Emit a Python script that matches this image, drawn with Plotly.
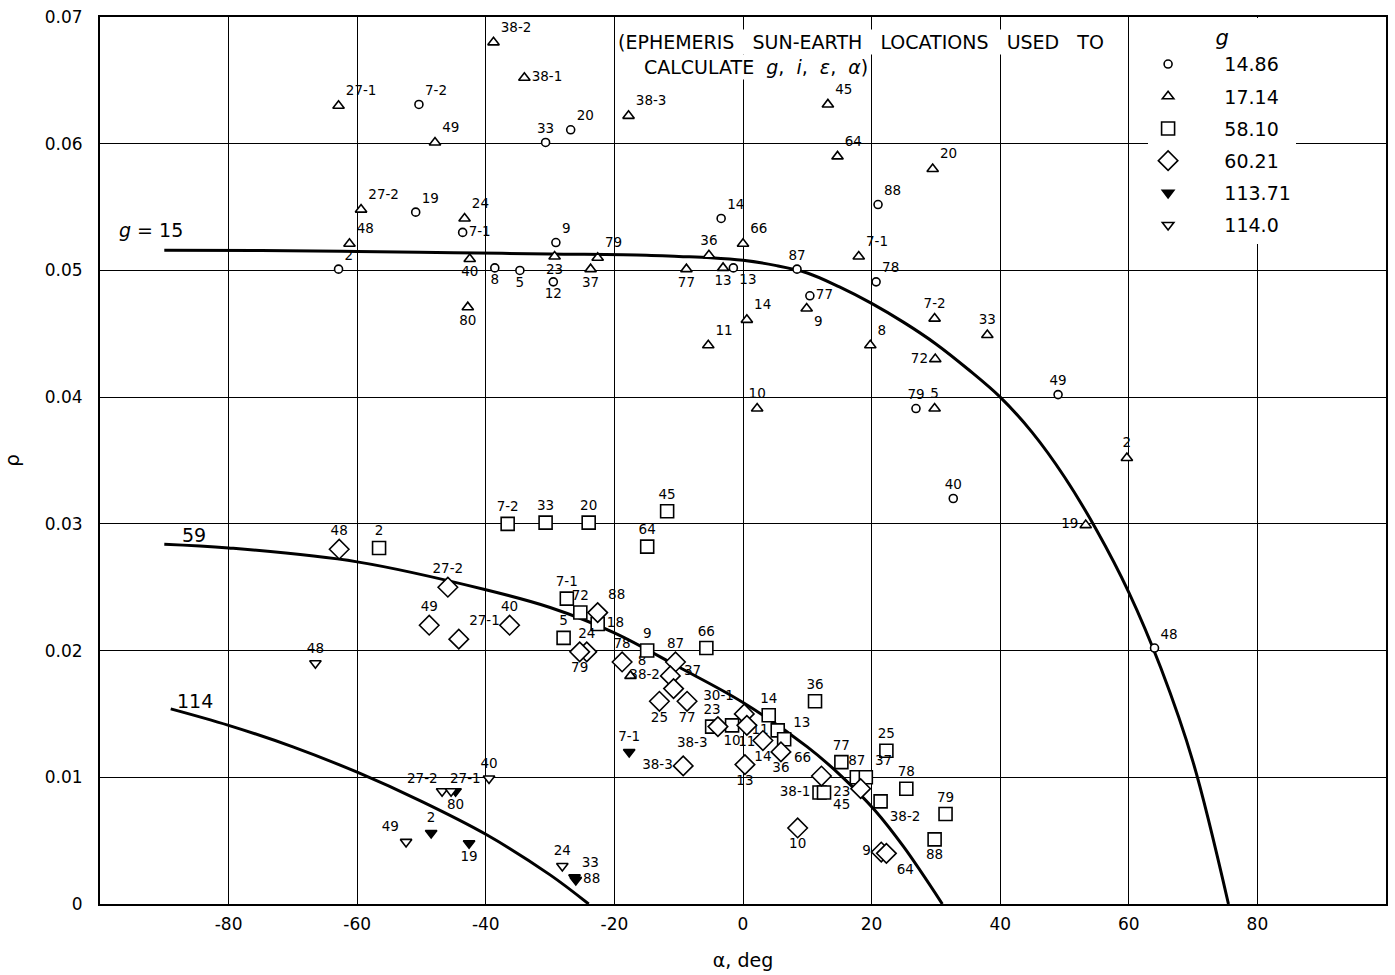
import plotly.graph_objects as go

# ---------------- theoretical curves ----------------
g15_alpha = [-90, -75, -60, -45, -30, -15, -10, -5, 0, 5, 10, 15, 20, 25, 30, 35, 40, 45, 50,
             55, 60, 65, 70, 75.5]
g15_rho = [0.0516, 0.05158, 0.0515, 0.0514, 0.0513, 0.0512, 0.0511, 0.0510, 0.0508, 0.0504,
           0.0498, 0.0487, 0.0474, 0.0459, 0.0442, 0.0422, 0.0400, 0.0372, 0.0337, 0.0295,
           0.0246, 0.0186, 0.0112, 0.0]

g59_alpha = [-90, -80, -60, -40, -30, -20, -10, 0, 10, 15.5, 20.5, 25, 31]
g59_rho = [0.0284, 0.0281, 0.0270, 0.0248, 0.0234, 0.0214, 0.0187, 0.0159, 0.0124,
           0.0100, 0.0074, 0.0045, 0.0]

g114_alpha = [-89, -80, -70, -60, -50, -40, -30, -24]
g114_rho = [0.0154, 0.0141, 0.0124, 0.0104, 0.0081, 0.0055, 0.0023, 0.0]

# ---------------- g = 14.86 (circles) ----------------
c_lab = ["7-2", "19", "7-1", "2", "8", "5", "33", "20", "9", "12", "14", "13", "87", "77",
         "78", "88", "79", "40", "49", "48"]
c_alpha = [-50.4, -50.9, -43.6, -62.9, -38.6, -34.7, -30.7, -26.8, -29.1, -29.5, -3.4, -1.5,
           8.4, 10.4, 20.7, 21.0, 26.9, 32.7, 49.0, 64.0]
c_rho = [0.0631, 0.0546, 0.0530, 0.0501, 0.0502, 0.0500, 0.0601, 0.0611, 0.0522, 0.0491,
         0.0541, 0.0502, 0.0501, 0.0480, 0.0491, 0.0552, 0.0391, 0.0320, 0.0402, 0.0202]

# ---------------- g = 17.14 (triangles) ----------------
t_lab = ["38-2", "38-1", "27-1", "49", "27-2", "24", "48", "40", "80", "38-3", "23", "79",
         "37", "77", "36", "13", "66", "7-1", "45", "64", "20", "9", "14", "11", "8", "7-2",
         "33", "72", "10", "5", "2", "19", "8"]
t_alpha = [-38.8, -34.0, -62.9, -47.9, -59.4, -43.3, -61.2, -42.5, -42.8, -17.8, -29.3, -22.6,
           -23.7, -8.8, -5.3, -3.1, 0.0, 18.0, 13.2, 14.7, 29.5, 9.9, 0.6, -5.4, 19.8, 29.8,
           38.0, 29.9, 2.2, 29.8, 59.7, 53.3, -17.5]
t_rho = [0.0680, 0.0652, 0.0630, 0.0601, 0.0548, 0.0541, 0.0521, 0.0509, 0.0471, 0.0622,
         0.0511, 0.0510, 0.0501, 0.0501, 0.0512, 0.0502, 0.0521, 0.0511, 0.0631, 0.0590,
         0.0580, 0.0470, 0.0461, 0.0441, 0.0441, 0.0462, 0.0449, 0.0430, 0.0391, 0.0391,
         0.0352, 0.0299, 0.0180]

# ---------------- g = 58.10 (squares) ----------------
s_lab = ["7-2", "33", "20", "2", "45", "64", "7-1", "72", "18", "5", "9", "66", "23", "10",
         "14", "11", "13", "36", "77", "87", "37", "25", "38-1", "23", "38-2", "78", "79", "88"]
s_alpha = [-36.6, -30.7, -24.0, -56.6, -11.8, -14.9, -27.4, -25.3, -22.6, -27.9, -14.9, -5.7,
           -4.8, -1.7, 4.0, 5.4, 6.4, 11.2, 15.3, 17.7, 19.1, 22.3, 11.9, 12.6, 21.4, 25.4,
           31.5, 29.8]
s_rho = [0.0300, 0.0301, 0.0301, 0.0281, 0.0310, 0.0282, 0.0241, 0.0230, 0.0221, 0.0210,
         0.0200, 0.0202, 0.0140, 0.0141, 0.0149, 0.0137, 0.0130, 0.0160, 0.0112, 0.0100,
         0.0100, 0.0121, 0.0088, 0.0088, 0.0081, 0.0091, 0.0071, 0.0051]

# ---------------- g = 60.21 (diamonds) ----------------
d_lab = ["48", "27-2", "49", "27-1", "40", "88", "24", "79", "78", "87", "38-2", "37", "25",
         "77", "38-3", "30-1", "11", "14", "36", "13", "38-3", "66", "45", "10", "9", "64"]
d_alpha = [-62.8, -45.9, -48.8, -44.2, -36.3, -22.6, -24.3, -25.4, -18.8, -10.5, -11.3, -10.8,
           -13.0, -8.7, -3.9, 0.2, 0.6, 3.1, 5.9, 0.3, -9.3, 12.2, 18.3, 8.5, 21.5, 22.3]
d_rho = [0.0280, 0.0250, 0.0220, 0.0209, 0.0220, 0.0230, 0.0199, 0.0199, 0.0191, 0.0191,
         0.0180, 0.0170, 0.0160, 0.0160, 0.0140, 0.0150, 0.0141, 0.0129, 0.0120, 0.0110,
         0.0109, 0.0101, 0.0091, 0.0060, 0.0041, 0.0040]

# ---------------- g = 113.71 (filled inverted triangles) ----------------
f_lab = ["2", "19", "80", "7-1", "33", "88"]
f_alpha = [-48.5, -42.6, -44.7, -17.7, -26.2, -26.0]
f_rho = [0.0056, 0.0048, 0.0089, 0.0120, 0.0021, 0.0019]

# ---------------- g = 114.0 (open inverted triangles) ----------------
o_lab = ["48", "27-2", "27-1", "40", "49", "24"]
o_alpha = [-66.5, -46.8, -45.4, -39.5, -52.4, -28.1]
o_rho = [0.0190, 0.0089, 0.0089, 0.0099, 0.0049, 0.0030]

legend_names = ["14.86", "17.14", "58.10", "60.21", "113.71", "114.0"]
x_ticks = [-80, -60, -40, -20, 0, 20, 40, 60, 80]
y_ticks = [0, 0.01, 0.02, 0.03, 0.04, 0.05, 0.06, 0.07]
y_ticktext = ["0", "0.01", "0.02", "0.03", "0.04", "0.05", "0.06", "0.07"]

# ---------------- label placement (style) ----------------
# codes map to plotly text positions; tuples are pixel offsets for hand-placed labels
c_pos = ["tr", "tr", "mr", "tr", "bc", "bc", "tc", "tr", "tr", "bc", "tr", "br", "tc", "mr",
         "tr", "tr", "tc", "tc", "tc", "tr"]
t_pos = ["tr", "mr", "tr", "tr", "tr", "tr", "tr", "bc", "bc", "tr", "bc", "tr", "bc", "bc",
         "tc", "bc", "tr", "tr", "tr", "tr", "tr", "br", "tr", "tr", "tr", "tc", "tc", "ml",
         "tc", "tc", "tc", "ml", "tr"]
s_pos = ["tc", "tc", "tc", "tc", "tc", "tc", "tc", "tc", "mr", "tc", "tc", "tc", "tc", "bc",
         "tc", "ml", "tr", "tc", "tc", "tc", "tr", "tc", "ml", "mr", "br", "tc", "tc", "bc"]
d_pos = ["tc", "tc", "tc", "tr", "tc", "tr", "tc", "bc", "tc", "tc", "ml", "tr", "bc", "bc",
         "bl", "tl", "bc", "bc", "bc", "bc", "ml", "tl", "bl", "bc", "ml", "br"]
f_pos = ["tc", "bc", "bc", "tc", "tr", "mr"]
o_pos = ["tc", (-20, 13), (14, 13), "tc", "tl", "tc"]

POS = {"tr": "top right", "tc": "top center", "tl": "top left", "mr": "middle right",
       "ml": "middle left", "br": "bottom right", "bc": "bottom center", "bl": "bottom left"}

FONT = "DejaVu Sans"
LABEL_SIZE = 13.5

fig = go.Figure()

for xa, ya in [(g15_alpha, g15_rho), (g59_alpha, g59_rho), (g114_alpha, g114_rho)]:
    fig.add_trace(go.Scatter(x=xa, y=ya, mode="lines",
                             line=dict(color="black", width=3, shape="spline", smoothing=1.0),
                             showlegend=False, hoverinfo="skip"))

series = [
    (c_alpha, c_rho, c_lab, c_pos, "circle", 8, "white"),
    (t_alpha, t_rho, t_lab, t_pos, "triangle-up", 10, "white"),
    (s_alpha, s_rho, s_lab, s_pos, "square", 13, "white"),
    (d_alpha, d_rho, d_lab, d_pos, "diamond", 15, "white"),
    (f_alpha, f_rho, f_lab, f_pos, "triangle-down", 10, "black"),
    (o_alpha, o_rho, o_lab, o_pos, "triangle-down", 10, "white"),
]

for i, (xa, ya, lab, pos, sym, sz, fc) in enumerate(series):
    texts, tpos = [], []
    for x, y, l, p in zip(xa, ya, lab, pos):
        if isinstance(p, tuple):
            texts.append("")
            tpos.append("top center")
            fig.add_annotation(x=x, y=y, text=l, showarrow=False, xshift=p[0], yshift=p[1],
                               font=dict(family=FONT, size=LABEL_SIZE, color="black"))
        else:
            texts.append(l)
            tpos.append(POS[p])
    fig.add_trace(go.Scatter(
        x=xa, y=ya, mode="markers+text", text=texts, textposition=tpos,
        textfont=dict(family=FONT, size=LABEL_SIZE, color="black"),
        marker=dict(symbol=sym, size=sz, color=fc, line=dict(color="black", width=1.6)),
        name="\u00a0" * 6 + legend_names[i], legendgroup=str(i),
    ))

fig.add_annotation(x=-92, y=0.0532, text="<i>g</i> = 15", showarrow=False,
                   font=dict(family=FONT, size=19, color="black"))
fig.add_annotation(x=-85.4, y=0.0291, text="59", showarrow=False,
                   font=dict(family=FONT, size=19, color="black"))
fig.add_annotation(x=-85.3, y=0.0160, text="114", showarrow=False,
                   font=dict(family=FONT, size=19, color="black"))

sp = " \u00a0\u00a0"
sp2 = " \u00a0"
fig.add_annotation(xref="paper", yref="paper", x=0.4014, y=0.972, xanchor="left", yanchor="middle",
                   text="(EPHEMERIS" + sp + "SUN-EARTH" + sp + "LOCATIONS" + sp + "USED" + sp + "TO",
                   showarrow=False, bgcolor="white",
                   font=dict(family=FONT, size=19, color="black"))
fig.add_annotation(xref="paper", yref="paper", x=0.4216, y=0.944, xanchor="left", yanchor="middle",
                   text="CALCULATE" + sp2 + "<i>g</i>," + sp2 + "<i>i</i>," + sp2 + "<i>ε</i>," + sp2 + "<i>α</i>)",
                   showarrow=False, bgcolor="white",
                   font=dict(family=FONT, size=19, color="black"))

fig.update_layout(
    width=1395, height=975,
    margin=dict(l=100, r=7, t=12, b=67),
    paper_bgcolor="white", plot_bgcolor="white",
    font=dict(family=FONT, size=17, color="black"),
    legend=dict(x=0.815, y=0.999, xanchor="left", yanchor="top", bgcolor="white",
                borderwidth=0, font=dict(family=FONT, size=19, color="black"),
                title=dict(text="<i>g</i>", side="top center", font=dict(family=FONT, size=21)),
                traceorder="grouped", tracegroupgap=4.5),
    xaxis=dict(range=[-100, 100], tickvals=x_ticks, ticktext=[str(v) for v in x_ticks],
               showgrid=True, gridcolor="black", gridwidth=1.4, zeroline=False,
               showline=True, linecolor="black", linewidth=2, mirror=True, ticks="",
               tickfont=dict(size=17), ticklabelstandoff=4,
               title=dict(text="α, deg", font=dict(size=19), standoff=20)),
    yaxis=dict(range=[0, 0.07], tickvals=y_ticks, ticktext=y_ticktext,
               showgrid=True, gridcolor="black", gridwidth=1.4, zeroline=False,
               showline=True, linecolor="black", linewidth=2, mirror=True, ticks="",
               tickfont=dict(size=17), ticklabelstandoff=12,
               title=dict(text="ρ", font=dict(size=20), standoff=20)),
)

fig.write_html("out.html")
